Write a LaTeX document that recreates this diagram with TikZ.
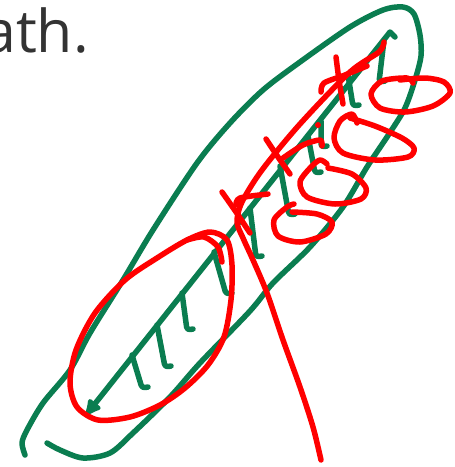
\documentclass[tikz,border=0pt]{standalone}
\usepackage{fontspec}
\setmainfont{Open Sans}
\usetikzlibrary{arrows.meta}
\definecolor{inkgreen}{RGB}{10,125,80}
\definecolor{inkred}{RGB}{255,0,0}

\begin{document}
\begin{tikzpicture}[x=1pt, y=-1pt,
  greenpen/.style={draw=inkgreen, line width=5.5pt, line cap=round, line join=round},
  redpen/.style={draw=inkred, line width=5.5pt, line cap=round, line join=round}]
  \useasboundingbox (0,0) rectangle (455,467);
  \clip (0,0) rectangle (455,467);

  %% ── Text fragment, cut at the left edge ───────────────────
  \node[anchor=base east, inner sep=0pt, text=black!80,
        font=\fontsize{59}{60}\selectfont] (pathword) at (89,52) {path.};

  %% ── Green outer loop ──────────────────────────────────────
  \draw[greenpen] plot[smooth] coordinates {(25,455) (22,443) (27,430) (43,403)
    (70,370) (90,333) (123,280) (153,230) (197,163) (230,123) (263,90) (300,62)
    (350,27) (383,10) (403,7) (414,14) (420,35) (421,56) (415,80) (405,108)
    (389,134) (367,167) (343,207) (310,247) (273,283) (250,311) (200,363)
    (170,397) (133,433) (110,453) (83,458) (60,450) (47,443)};

  %% ── Green shaft with arrow and ticks ───────────────────────
  \draw[greenpen, -{Latex[length=20pt,width=19pt,round]}]
    (395,37) -- (390,32) -- (86,415);
  \foreach \xa/\ya/\xb/\yb in {384/40/379/82, 348/75/353/106, 321/121/321/147,
      308/136/315/173, 280/166/289/215, 250/208/256/257, 214/252/226/294,
      182/293/187/330, 157/325/165/367, 132/355/142/388}
    \draw[greenpen, rounded corners=3pt] (\xa,\ya) -- (\xb,\yb) -- ++(6,-1);

  %% ── Red ellipse round the lower end ────────────────────────
  \draw[redpen] plot[smooth cycle] coordinates {(187,240) (210,232) (227,240)
    (232,265) (231,300) (224,337) (208,365) (185,388) (160,405) (130,417)
    (98,420) (77,407) (70,383) (76,350) (95,313) (125,280) (157,258)};
  \draw[redpen] plot[smooth] coordinates {(222,262) (218,247) (204,237) (187,240)};

  %% ── Red stroke with crosses ───────────────────────────────
  \draw[redpen] plot[smooth] coordinates {(384,42) (379,52) (350,72) (300,124)
    (262,170) (242,202) (237,222) (243,238) (253,260) (267,293) (283,340)
    (300,387) (313,427) (321,460)};
  %% crosses
  \draw[redpen] plot[smooth] coordinates {(336,57) (339,80) (343,104)};
  \draw[redpen] plot[smooth] coordinates {(321,92) (324,83) (345,75) (367,66)};
  \draw[redpen] plot[smooth] coordinates {(266,139) (278,157) (290,174)};
  \draw[redpen] plot[smooth] coordinates {(283,158) (303,145) (320,140) (322,146)};
  \draw[redpen] plot[smooth] coordinates {(222,192) (236,212) (250,233)};
  \draw[redpen] plot[smooth] coordinates {(236,205) (240,198) (268,194)};
  \fill[inkred] (318,125) circle (3pt);

  %% ── Red loops on the right ────────────────────────────────
  \draw[redpen] plot[smooth] coordinates {(413,83) (407,78) (382,81) (371,94)
    (380,108) (405,112) (433,106) (450,93) (444,82) (425,78) (400,80)};
  \draw[redpen] plot[smooth] coordinates {(357,123) (352,114) (340,121) (334,138)
    (343,153) (375,160) (408,157) (414,148) (402,138) (375,126) (350,118)};
  \draw[redpen] plot[smooth] coordinates {(327,164) (320,160) (311,167) (300,182)
    (307,197) (335,204) (361,199) (366,188) (352,174) (328,168)};
  \draw[redpen] plot[smooth] coordinates {(294,204) (287,207) (274,220) (278,236)
    (300,242) (326,234) (332,222) (317,214) (292,212)};
\end{tikzpicture}
\end{document}
